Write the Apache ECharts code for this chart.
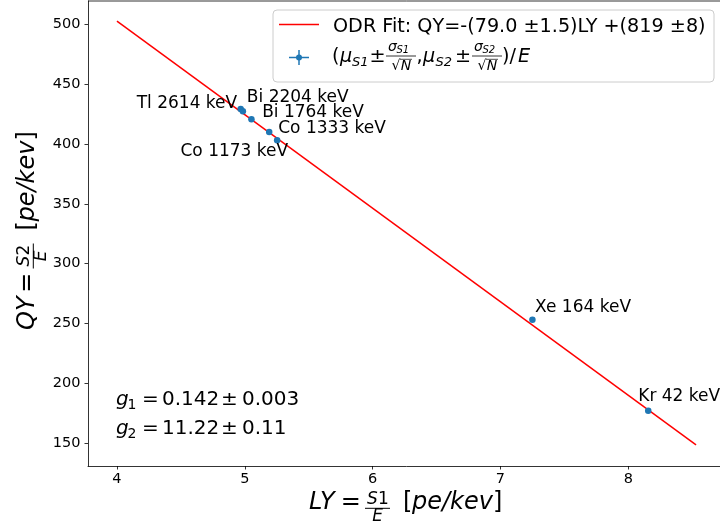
<!DOCTYPE html>
<html>
<head>
<meta charset="utf-8">
<script src="https://cdn.jsdelivr.net/npm/echarts@6/dist/echarts.min.js"></script>
<style>
html,body{margin:0;padding:0;background:#fff;width:720px;height:531px;overflow:hidden}
#c{width:740px;height:531px}
</style>
</head>
<body>
<div id="c"></div>
<script>
// Calibration sources: light yield (LY) vs charge yield (QY), in pe/keV
const sourceNames = ['Tl 2614 keV', 'Bi 2204 keV', 'Bi 1764 keV', 'Co 1333 keV', 'Co 1173 keV', 'Xe 164 keV', 'Kr 42 keV'];
const lightYield  = [4.968, 4.985, 5.052, 5.191, 5.253, 7.250, 8.156];
const chargeYield = [429.5, 427.5, 420.8, 410.2, 403.3, 253.1, 177.0];

// ODR fit line end points
const fitLY = [4.0, 8.53];
const fitQY = [503.0, 148.5];

// Axis ticks
const xTicks = [4, 5, 6, 7, 8];
const yTicks = [150, 200, 250, 300, 350, 400, 450, 500];

// Label placement next to each point (pixel offset from the marker, alignment)
const labelPlacement = [
  { dx: -3.5, dy: -5,    align: 'right' },
  { dx: 4,    dy: -13.5, align: 'left'  },
  { dx: 10.7, dy: -6.3,  align: 'left'  },
  { dx: 9,    dy: -3.7,  align: 'left'  },
  { dx: 11,   dy: 11.7,  align: 'right' },
  { dx: 2.7,  dy: -12.2, align: 'left'  },
  { dx: -10,  dy: -14,   align: 'left'  }
];

const FONT = 'DejaVu Sans';
const BLUE = '#1f77b4';
const X_RANGE = [3.7735, 8.7565];
const Y_RANGE = [130.75, 519.8];

function txt(x, y, text, size, opt) {
  opt = opt || {};
  const al = opt.align || 'left';
  return {
    type: 'text', x: x, y: y, z: 100, silent: true,
    style: {
      text: text, fontSize: size, fontFamily: FONT,
      fontStyle: opt.italic ? 'italic' : 'normal',
      fill: '#000',
      align: al, textAlign: al,
      verticalAlign: 'middle', textVerticalAlign: 'middle'
    }
  };
}
function seg(x1, y1, x2, y2, color, w) {
  return { type: 'line', z: 100, silent: true, shape: { x1: x1, y1: y1, x2: x2, y2: y2 },
           style: { stroke: color || '#000', lineWidth: w || 1 } };
}

// Axis title of the form  A = num/den [pe/kev], laid out along local x, centred on local y = 0
function axisTitle(ox, oy, rot, prefix, num, shift) {
  const s = shift || 0;
  const kids = [
    txt(0, 0, prefix, 24, { italic: true }),
    txt(41.8 + s, 0, '=', 24, { align: 'center' }),
    txt(58 + s, -3, num[0], 17, { italic: true }),
    txt(69 + s, -3, num[1], 17),
    seg(56 + s, 5.3, 81 + s, 5.3, '#000', 1),
    txt(68.5 + s, 13.5, 'E', 17, { italic: true, align: 'center' }),
    txt(94 + s, 0, '[', 24),
    txt(103 + s, 0, 'pe/kev', 24, { italic: true }),
    txt(184 + s, 0, ']', 24)
  ];
  return { type: 'group', x: ox, y: oy, rotation: rot, children: kids };
}

// Legend fraction  sigma_Sn / sqrt(N)
function sigmaFrac(cx, cy, n) {
  return [
    txt(cx - 13, cy - 10, 'σ', 14, { italic: true }),
    txt(cx - 4.5, cy - 7.5, 'S' + n, 10, { italic: true }),
    seg(cx - 15, cy - 1.5, cx + 15, cy - 1.5, '#000', 0.8),
    txt(cx - 5, cy + 8.5, '√', 14, { align: 'center' }),
    seg(cx - 1, cy + 1.8, cx + 11, cy + 1.8, '#000', 0.7),
    txt(cx + 5, cy + 9, 'N', 14, { italic: true, align: 'center' })
  ];
}

const legendItems = [
  { type: 'rect', z: 99, silent: true, shape: { x: 273, y: 10, width: 441, height: 72, r: 4 },
    style: { fill: 'rgba(255,255,255,0.8)', stroke: '#cccccc', lineWidth: 1 } },
  seg(279, 24.5, 319, 24.5, '#ff0000', 1.5),
  txt(333, 27, 'ODR Fit: QY=-(79.0 ±1.5)LY +(819 ±8)', 19.2),
  seg(289, 57.5, 309, 57.5, BLUE, 1.5),
  seg(299, 50, 299, 65, BLUE, 1.5),
  { type: 'circle', z: 100, silent: true, shape: { cx: 299, cy: 57.5, r: 3 }, style: { fill: BLUE } },
  txt(332, 57.5, '(', 19.2),
  txt(340, 57.5, 'μ', 19.2, { italic: true }),
  txt(352, 62.5, 'S1', 13, { italic: true }),
  txt(377.5, 57.5, '±', 19.2, { align: 'center' }),
  ...sigmaFrac(401, 57.5, '1'),
  txt(416.5, 57.5, ',', 19.2),
  txt(423, 57.5, 'μ', 19.2, { italic: true }),
  txt(435.5, 62.5, 'S2', 13, { italic: true }),
  txt(463, 57.5, '±', 19.2, { align: 'center' }),
  ...sigmaFrac(487, 57.5, '2'),
  txt(502, 57.5, ')/', 19.2),
  txt(518, 57.5, 'E', 19.2, { italic: true })
];

// Gain factors
function gainLine(y, idx, value) {
  return [
    txt(116, y, 'g', 20, { italic: true }),
    txt(127.5, y + 5, idx, 14),
    txt(150.5, y, '=', 20, { align: 'center' }),
    txt(162, y, value[0], 20),
    txt(229.5, y, '±', 20, { align: 'center' }),
    txt(242, y, value[1], 20)
  ];
}

const chart = echarts.init(document.getElementById('c'), null, { renderer: 'canvas' });

const axisCommon = {
  type: 'value',
  axisLine: { show: true, lineStyle: { color: '#000', width: 0.8 } },
  axisTick: { show: true, length: 3.5, lineStyle: { color: '#000', width: 0.8 } },
  splitLine: { show: false },
  axisLabel: { color: '#000', fontSize: 14.5, fontFamily: FONT }
};

chart.setOption({
  animation: false,
  backgroundColor: '#fff',
  grid: { left: 88, top: 1, width: 637, height: 465, show: false,
          containLabel: false, outerBoundsMode: 'none' },
  xAxis: Object.assign({}, axisCommon, {
    min: X_RANGE[0], max: X_RANGE[1],
    axisTick: Object.assign({}, axisCommon.axisTick, { customValues: xTicks }),
    axisLabel: Object.assign({}, axisCommon.axisLabel, { customValues: xTicks, margin: 6 })
  }),
  yAxis: Object.assign({}, axisCommon, {
    min: Y_RANGE[0], max: Y_RANGE[1],
    axisTick: Object.assign({}, axisCommon.axisTick, { customValues: yTicks }),
    axisLabel: Object.assign({}, axisCommon.axisLabel, { customValues: yTicks, margin: 7.5 })
  }),
  series: [
    {
      type: 'line', name: 'ODR Fit',
      data: fitLY.map((x, i) => [x, fitQY[i]]),
      showSymbol: false, symbol: 'none',
      lineStyle: { color: '#ff0000', width: 1.5 },
      silent: true, z: 2
    },
    {
      type: 'scatter', name: 'sources',
      symbolSize: 6.5,
      itemStyle: { color: BLUE, opacity: 1 },
      z: 3,
      label: {
        show: true, position: 'inside', formatter: '{b}',
        color: '#000', fontSize: 17, fontFamily: FONT, verticalAlign: 'middle'
      },
      data: lightYield.map((x, i) => ({
        name: sourceNames[i],
        value: [x, chargeYield[i]],
        label: { offset: [labelPlacement[i].dx, labelPlacement[i].dy], align: labelPlacement[i].align }
      }))
    }
  ],
  graphic: [
    // top frame line
    seg(88, 1, 725, 1, '#000', 0.8),
    axisTitle(309, 503, 0, 'LY', ['S', '1']),
    axisTitle(28, 330, Math.PI / 2, 'QY', ['S', '2'], 5.5),
    ...legendItems,
    ...gainLine(400, '1', ['0.142', '0.003']),
    ...gainLine(429, '2', ['11.22', '0.11'])
  ]
});
</script>
</body>
</html>
